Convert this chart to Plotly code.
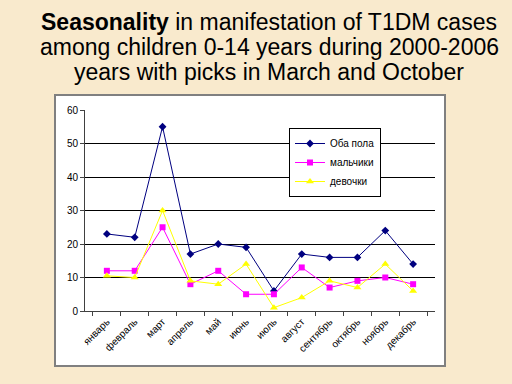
import plotly.graph_objects as go

months = ["январь", "февраль", "март", "апрель", "май", "июнь", "июль",
          "август", "сентябрь", "октябрь", "ноябрь", "декабрь"]
both = [23, 22, 55, 17, 20, 19, 6, 17, 16, 16, 24, 14]
boys = [12, 12, 25, 8, 12, 5, 5, 13, 7, 9, 10, 8]
girls = [10.5, 10, 30, 9, 8, 14, 1, 4, 9, 7, 14, 6]
y_ticks = [0, 10, 20, 30, 40, 50, 60]
title_lines = ["<b>Seasonality</b> in manifestation of T1DM cases",
               "among children 0-14 years during 2000-2006",
               "years with picks in March and October"]

W, H = 512, 384
L, R, T, B = 85, 77, 110, 73

fig = go.Figure()
fig.add_trace(go.Scatter(x=months, y=both, name="Оба пола", mode="lines+markers",
                         line=dict(color="#000080", width=1),
                         marker=dict(symbol="diamond", size=6, color="#000080")))
fig.add_trace(go.Scatter(x=months, y=boys, name="мальчики", mode="lines+markers",
                         line=dict(color="#FF00FF", width=1),
                         marker=dict(symbol="square", size=6, color="#FF00FF")))
fig.add_trace(go.Scatter(x=months, y=girls, name="девочки", mode="lines+markers",
                         line=dict(color="#FFFF00", width=1),
                         marker=dict(symbol="triangle-up", size=7, color="#FFFF00")))

def px_x(p):
    return (p - L) / (W - L - R)

def px_y(p):
    return (H - B - p) / (H - T - B)

fig.add_shape(type="rect", xref="paper", yref="paper",
              x0=px_x(55), x1=px_x(445), y0=px_y(366), y1=px_y(95),
              line=dict(color="#808080", width=2), fillcolor="white", layer="below")

for txt, yc in zip(title_lines, [22, 47, 72]):
    fig.add_annotation(xref="paper", yref="paper", x=px_x(269), y=px_y(yc),
                       xanchor="center", yanchor="middle", showarrow=False,
                       text=txt,
                       font=dict(family="Liberation Sans, Arial", size=23, color="black"))

fig.update_layout(
    width=W, height=H,
    margin=dict(l=L, r=R, t=T, b=B),
    paper_bgcolor="#F9EACD",
    plot_bgcolor="#C0C0C0",
    font=dict(family="Liberation Sans, Arial", size=10, color="black"),
    showlegend=True,
    legend=dict(x=px_x(289), y=px_y(128), xanchor="left", yanchor="top",
                bgcolor="white", bordercolor="black", borderwidth=1,
                font=dict(size=10), tracegroupgap=0,
                itemwidth=30),
    xaxis=dict(type="category", tickangle=-45, showgrid=False,
               ticks="outside", ticklen=4, tickson="boundaries",
               showline=True, linecolor="#404040", linewidth=1,
               tickfont=dict(size=10)),
    yaxis=dict(range=[0, 60], tickvals=y_ticks, showgrid=True,
               gridcolor="black", gridwidth=1, ticks="outside", ticklen=4,
               showline=True, linecolor="#404040", linewidth=1,
               zeroline=False, tickfont=dict(size=10)),
)

fig.write_html("out.html", config={"displayModeBar": False},
               post_script="document.body.style.margin='0';"
                           "document.body.style.background='#F9EACD';")
